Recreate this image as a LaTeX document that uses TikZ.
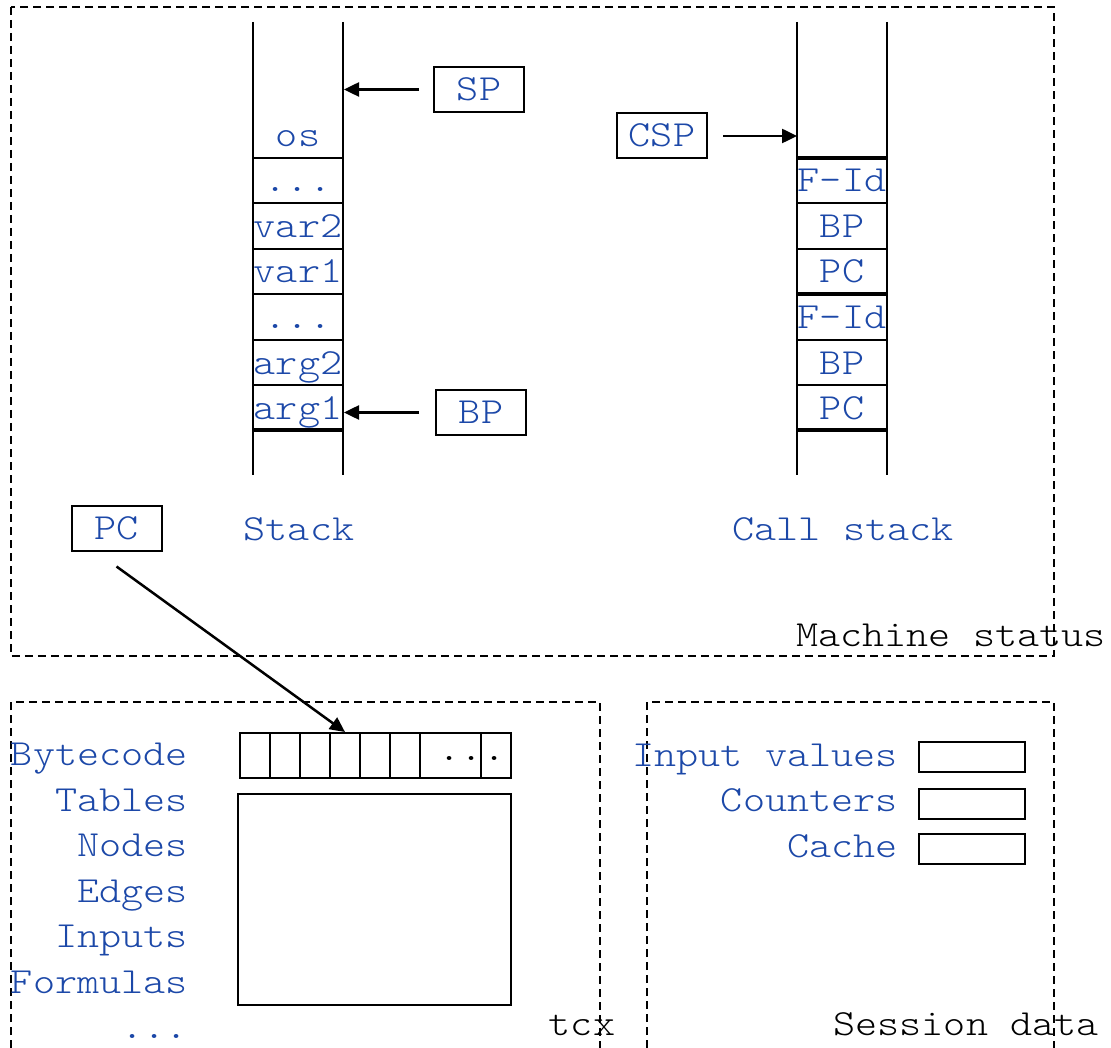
\documentclass[tikz,border=0pt]{standalone}
\usepackage{fontspec}
\newfontfamily\monof[Extension=.otf,FakeStretch=1.144]{lmmonolt10-regular}
\usetikzlibrary{arrows.meta,calc}
\definecolor{tblue}{RGB}{28,72,168}
\begin{document}
\begin{tikzpicture}[x=1pt,y=-1pt,
  mfont/.style={font={\monof\fontsize{36.8}{40}\selectfont}},
  lbl/.style={mfont,text=tblue,inner sep=0pt,anchor=base},
  rlbl/.style={mfont,text=tblue,inner sep=0pt,anchor=base east},
  blk/.style={mfont,text=black,inner sep=0pt,anchor=base},
  regbox/.style={draw,line width=2pt,mfont,text=tblue,inner sep=0pt,minimum width=90pt,minimum height=45pt,text height=22pt,text depth=0pt},
  cellbox/.style={draw,line width=2pt,inner sep=0pt,minimum width=30pt,minimum height=45pt},
  smallbox/.style={draw,line width=2pt,inner sep=0pt,minimum width=106pt,minimum height=30pt},
  frame/.style={line width=2pt,dash pattern=on 8pt off 5pt},
  wall/.style={line width=2pt},
  thin/.style={line width=2pt},
  thick/.style={line width=4.5pt},
  arr/.style={line width=2.5pt,-{Triangle[length=15pt,width=14pt]}}]
\useasboundingbox (0,0) rectangle (1111,1048);

% dashed frames
\draw[frame] (11,7) rectangle (1054,656);
\draw[frame] (11,1048) -- (11,702) -- (600,702) -- (600,1048);
\draw[frame] (647,1048) -- (647,702) -- (1054,702) -- (1054,1048);

% Stack
\draw[wall] (253,22) -- (253,475);
\draw[wall] (343,22) -- (343,475);
\foreach \y in {158,203,249,294,340,385} \draw[thin] (253,\y) -- (343,\y);
\draw[thick] (253,430) -- (343,430);
\node[lbl] (os) at (298,147) {os};
\node[lbl] (d1) at (298,192) {...};
\node[lbl] (v2) at (298,237.5) {var2};
\node[lbl] (v1) at (298,283) {var1};
\node[lbl] (d2) at (298,328.5) {...};
\node[lbl] (a2) at (298,374) {arg2};
\node[lbl] (a1) at (298,419) {arg1};
\node[lbl] (stk) at (299,540) {Stack};

% Call stack
\draw[wall] (797,22) -- (797,475);
\draw[wall] (887,22) -- (887,475);
\foreach \y in {203,249,340,385} \draw[thin] (797,\y) -- (887,\y);
\foreach \y in {158,294,430} \draw[thick] (797,\y) -- (887,\y);
\node[lbl] (f1) at (842,192) {F-Id};
\node[lbl] (b1) at (842,237.5) {BP};
\node[lbl] (p1) at (842,283) {PC};
\node[lbl] (f2) at (842,328.5) {F-Id};
\node[lbl] (b2) at (842,374) {BP};
\node[lbl] (p2) at (842,419) {PC};
\node[lbl] (cstk) at (843,540) {Call stack};

% registers
\node[regbox] (SP) at (479,89.5) {SP};
\node[regbox] (BP) at (481,412.5) {BP};
\node[regbox] (CSP) at (662,136) {CSP};
\node[regbox] (PC) at (116.5,528) {PC};
\coordinate (spTip) at (344,89.5);
\coordinate (bpTip) at (344,412.5);
\coordinate (cspTip) at (797,136);
\draw[arr,shorten <=14pt] (SP.west) -- (spTip);
\draw[arr,shorten <=16pt] (BP.west) -- (bpTip);
\draw[arr,shorten <=15pt] (CSP.east) -- (cspTip);

\node[blk] (ms) at (951,646) {Machine status};

% tcx
\node[cellbox,anchor=north west] (bc1) at (239,732) {};
\node[cellbox,anchor=north west] (bc2) at (269,732) {};
\node[cellbox,anchor=north west] (bc3) at (299,732) {};
\node[cellbox,anchor=north west] (bc4) at (329,732) {};
\node[cellbox,anchor=north west] (bc5) at (359,732) {};
\node[cellbox,anchor=north west] (bc6) at (389,732) {};
\node[cellbox,anchor=north west,minimum width=61pt] (bc7) at (419,732) {};
\node[cellbox,anchor=north west] (bc8) at (480,732) {};
\node[blk] (bcd) at (472,760) {...};
\draw[arr] ($(PC.south)+(0,15)$) -- (bc4.north);
\node[draw,line width=2pt,inner sep=0pt,minimum width=273pt,minimum height=211pt,anchor=north west] (tbl) at (237,793) {};

\node[rlbl] (l1) at (188,765) {Bytecode};
\node[rlbl] (l2) at (188,811) {Tables};
\node[rlbl] (l3) at (188,856.5) {Nodes};
\node[rlbl] (l4) at (188,902) {Edges};
\node[rlbl] (l5) at (188,947) {Inputs};
\node[rlbl] (l6) at (188,993) {Formulas};
\node[rlbl] (l7) at (188,1038) {...};
\node[blk] (tcx) at (582,1035) {tcx};

% Session data
\node[rlbl] (iv) at (898,766) {Input values};
\node[rlbl] (ct) at (898,811) {Counters};
\node[rlbl] (ca) at (898,857) {Cache};
\node[smallbox,anchor=north west] (ivb) at (918,741) {};
\node[smallbox,anchor=north west] (ctb) at (918,788) {};
\node[smallbox,anchor=north west] (cab) at (918,833) {};
\node[blk] (sd) at (966,1035) {Session data};
\end{tikzpicture}
\end{document}
